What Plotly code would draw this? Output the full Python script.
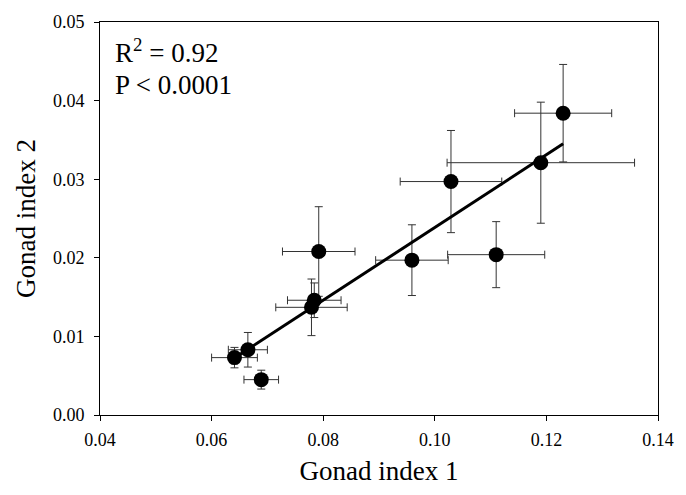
import plotly.graph_objects as go

# Data
gonad1 = [0.0641, 0.0665, 0.0689, 0.0779, 0.0784, 0.0792, 0.0959, 0.1029, 0.1110, 0.1190, 0.1230]
gonad2 = [0.0073, 0.0083, 0.0045, 0.0137, 0.0146, 0.0208, 0.0197, 0.0297, 0.0204, 0.0321, 0.0384]
gonad1_err = [0.0041, 0.0035, 0.0031, 0.0064, 0.0048, 0.0065, 0.0065, 0.0091, 0.0087, 0.0168, 0.0087]
gonad2_err = [0.0013, 0.0022, 0.0012, 0.0036, 0.0022, 0.0057, 0.0045, 0.0065, 0.0042, 0.0077, 0.0062]

fit_x = [0.0641, 0.1230]
fit_y = [0.00725, 0.0345]

x_ticks = [0.04, 0.06, 0.08, 0.10, 0.12, 0.14]
y_ticks = [0.00, 0.01, 0.02, 0.03, 0.04, 0.05]

FONT = "Liberation Serif, Times New Roman, serif"

fig = go.Figure()
fig.add_trace(go.Scatter(
    x=gonad1, y=gonad2, mode="markers",
    marker=dict(size=15, color="black"),
    error_x=dict(type="data", array=gonad1_err, color="#333333", thickness=1, width=4),
    error_y=dict(type="data", array=gonad2_err, color="#333333", thickness=1, width=4),
    showlegend=False,
))
fig.add_trace(go.Scatter(
    x=fit_x, y=fit_y, mode="lines",
    line=dict(color="black", width=3),
    showlegend=False,
))

fig.add_annotation(
    x=0.023, y=0.925, xref="paper", yref="paper", xanchor="left", yanchor="middle",
    text="R<sup>2</sup> = 0.92", showarrow=False,
    font=dict(family=FONT, size=27, color="black"),
)
fig.add_annotation(
    x=0.023, y=0.84, xref="paper", yref="paper", xanchor="left", yanchor="middle",
    text="P &lt; 0.0001", showarrow=False,
    font=dict(family=FONT, size=27, color="black"),
)

fig.update_layout(
    width=686, height=495,
    margin=dict(l=100, r=18, t=20, b=80),
    plot_bgcolor="white", paper_bgcolor="white",
    font=dict(family=FONT, color="black"),
)
fig.update_xaxes(
    range=[0.04, 0.14], tickvals=x_ticks, tickformat=".2f",
    showgrid=False, zeroline=False,
    showline=True, linecolor="black", linewidth=1, mirror=True,
    ticks="outside", ticklen=5, tickcolor="black",
    ticklabelstandoff=3,
    tickfont=dict(family=FONT, size=18),
    title=dict(text="Gonad index 1", font=dict(family=FONT, size=27), standoff=12),
)
fig.update_yaxes(
    range=[0.0, 0.05], tickvals=y_ticks, tickformat=".2f",
    showgrid=False, zeroline=False,
    showline=True, linecolor="black", linewidth=1, mirror=True,
    ticks="outside", ticklen=5, tickcolor="black",
    ticklabelstandoff=6,
    tickfont=dict(family=FONT, size=18),
    title=dict(text="Gonad index 2", font=dict(family=FONT, size=27), standoff=9),
)

fig.write_html("out.html")
